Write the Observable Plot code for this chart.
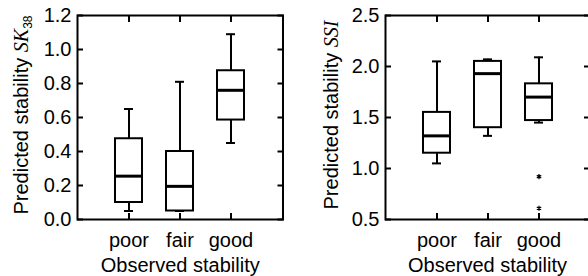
<!DOCTYPE html>
<html><head><meta charset="utf-8">
<script src="https://cdn.jsdelivr.net/npm/d3@7"></script>
<script src="https://cdn.jsdelivr.net/npm/@observablehq/plot@0.6"></script>
<style>
html,body{margin:0;padding:0;background:#fff;overflow:hidden}
#wrap{width:588px;height:276px;overflow:hidden;display:flex;}
#wrap svg{flex:none;display:block}
</style></head><body><div id="wrap"></div>
<script>
const categories = ["poor", "fair", "good"];

// Panel 1: SK38
const sk38Low    = [0.05, 0.05, 0.45];
const sk38Q1     = [0.10, 0.05, 0.585];
const sk38Median = [0.255, 0.195, 0.76];
const sk38Q3     = [0.475, 0.40, 0.875];
const sk38High   = [0.65, 0.81, 1.09];
const sk38Ticks  = [0, 0.2, 0.4, 0.6, 0.8, 1.0, 1.2];

// Panel 2: SSI
const ssiLow    = [1.05, 1.32, 1.45];
const ssiQ1     = [1.15, 1.40, 1.47];
const ssiMedian = [1.32, 1.93, 1.70];
const ssiQ3     = [1.55, 2.05, 1.83];
const ssiHigh   = [2.05, 2.07, 2.09];
const ssiOutlierCat = ["good", "good"];
const ssiOutlierVal = [0.92, 0.61];
const ssiTicks  = [0.5, 1.0, 1.5, 2.0, 2.5];

const xLabel = "Observed stability";
const yLabelMain = "Predicted stability ";

function panel({width, marginLeft, marginRight, yDomain, yTicks, low, q1, med, q3, high, outliers, italic, sub, labelX}) {
  const rows = categories.map((c, i) => ({cat: c, low: low[i], q1: q1[i], med: med[i], q3: q3[i], high: high[i]}));
  const fmt = d3.format(".1f");
  const svg = Plot.plot({
    width, height: 276,
    marginLeft, marginRight, marginTop: 15, marginBottom: 57,
    style: {fontSize: "20px", fontFamily: "'Liberation Sans', Arial, sans-serif", color: "black", background: "white"},
    x: {type: "band", domain: categories, paddingInner: 0.48, paddingOuter: 0.74},
    y: {domain: yDomain},
    marks: [
      Plot.ruleX(rows, {x: "cat", y1: "low", y2: "high", stroke: "black", strokeWidth: 2}),
      Plot.tickY(rows, {x: "cat", y: "low", insetLeft: 9, insetRight: 9, stroke: "black", strokeWidth: 2}),
      Plot.tickY(rows, {x: "cat", y: "high", insetLeft: 9, insetRight: 9, stroke: "black", strokeWidth: 2}),
      Plot.barY(rows, {x: "cat", y1: "q1", y2: "q3", fill: "white", stroke: "black", strokeWidth: 2}),
      Plot.tickY(rows, {x: "cat", y: "med", stroke: "black", strokeWidth: 3}),
      outliers ? Plot.dot(outliers, {x: "cat", y: "v", symbol: "asterisk", r: 2.4, stroke: "black", strokeWidth: 1.2}) : null,
      Plot.frame({stroke: "black", strokeWidth: 2}),
      Plot.axisY({ticks: yTicks, anchor: "left", tickSize: 0, tickPadding: 6, tickFormat: fmt, label: null}),
      Plot.axisY({ticks: yTicks, anchor: "left", tickSize: 6, dx: 6, fill: "none", label: null, strokeWidth: 2}),
      Plot.axisY({ticks: yTicks, anchor: "right", tickSize: 6, dx: -6, fill: "none", label: null, strokeWidth: 2}),
      Plot.axisX({anchor: "bottom", tickSize: 0, tickPadding: 13, label: null}),
      Plot.axisX({anchor: "bottom", tickSize: 6, dy: -6, fill: "none", label: null, strokeWidth: 2}),
      Plot.axisX({anchor: "top", tickSize: 6, dy: 6, fill: "none", label: null, strokeWidth: 2}),
      Plot.text([xLabel], {text: d => d, frameAnchor: "bottom", dy: 46.5, lineAnchor: "middle", fill: "black"})
    ]
  });
  const t = d3.select(svg).append("text")
    .attr("transform", `translate(${labelX},115) rotate(-90)`)
    .attr("text-anchor", "middle")
    .attr("fill", "black")
    .style("font-family", "'Liberation Sans', Arial, sans-serif")
    .style("font-size", "20px");
  t.append("tspan").text(yLabelMain);
  t.append("tspan").style("font-family", "'Liberation Serif', 'Times New Roman', serif").style("font-style", "italic").text(italic);
  if (sub) t.append("tspan").style("font-size", "12px").attr("dy", 4).text(sub);
  return svg;
}

const wrap = document.getElementById("wrap");
wrap.appendChild(panel({
  width: 294, marginLeft: 77, marginRight: 11.5, yDomain: [0, 1.2], yTicks: sk38Ticks,
  low: sk38Low, q1: sk38Q1, med: sk38Median, q3: sk38Q3, high: sk38High,
  outliers: null, italic: "SK", sub: "38", labelX: 28
}));
wrap.appendChild(panel({
  width: 296, marginLeft: 91, marginRight: 1, yDomain: [0.5, 2.5], yTicks: ssiTicks,
  low: ssiLow, q1: ssiQ1, med: ssiMedian, q3: ssiQ3, high: ssiHigh,
  outliers: ssiOutlierCat.map((c, i) => ({cat: c, v: ssiOutlierVal[i]})),
  italic: "SSI", sub: null, labelX: 44
}));
</script>
</body></html>
